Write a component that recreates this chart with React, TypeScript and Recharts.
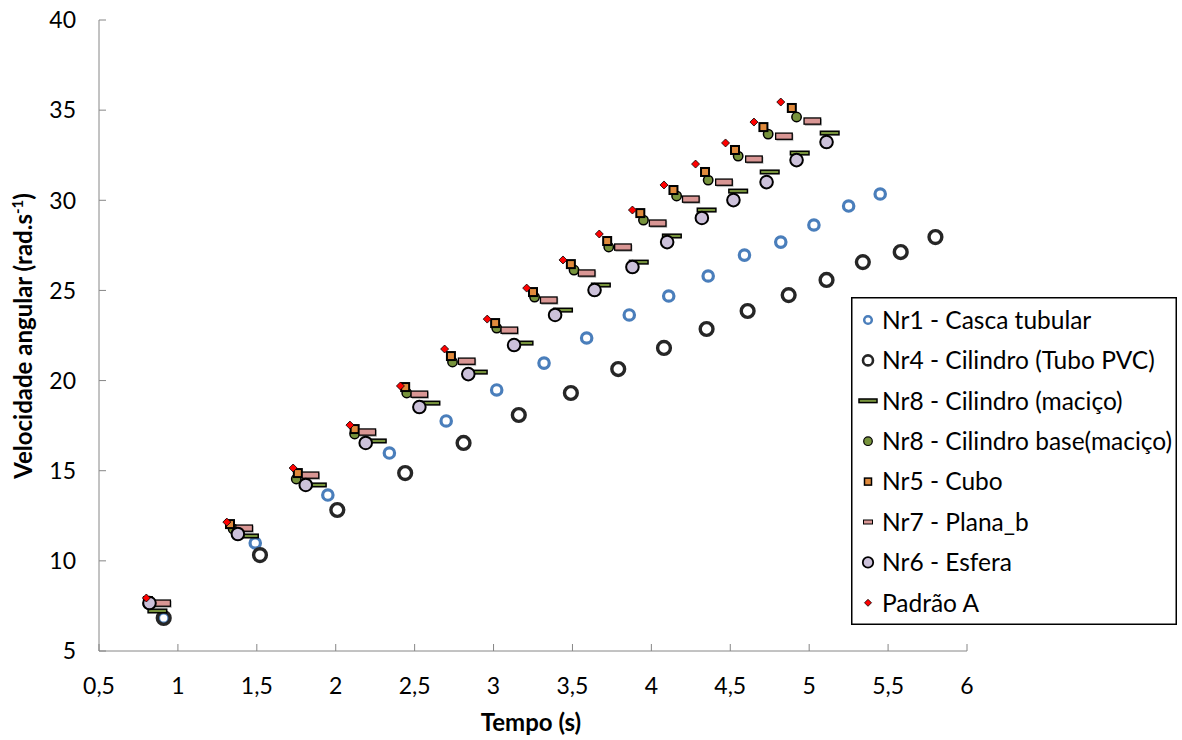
import React from 'react';
import { ScatterChart, Scatter, XAxis, YAxis, Legend } from 'recharts';

// Velocidade angular vs tempo — 8 corpos rolando

const cascaT = [0.91, 1.49, 1.95, 2.34, 2.70, 3.02, 3.32, 3.59, 3.86, 4.11, 4.36, 4.59, 4.82, 5.03, 5.25, 5.45];
const cascaV = [6.83, 10.99, 13.65, 15.98, 17.76, 19.48, 20.97, 22.36, 23.64, 24.69, 25.8, 26.96, 27.68, 28.63, 29.68, 30.35];

const tuboT = [0.91, 1.52, 2.01, 2.44, 2.81, 3.16, 3.49, 3.79, 4.08, 4.35, 4.61, 4.87, 5.11, 5.34, 5.58, 5.80];
const tuboV = [6.83, 10.32, 12.82, 14.87, 16.54, 18.09, 19.31, 20.64, 21.81, 22.86, 23.86, 24.74, 25.58, 26.57, 27.13, 27.96];

const macicoT = [0.87, 1.45, 1.88, 2.26, 2.6, 2.9, 3.19, 3.44, 3.68, 3.92, 4.13, 4.35, 4.55, 4.75, 4.94, 5.13];
const macicoV = [7.22, 11.38, 14.21, 16.65, 18.75, 20.47, 22.08, 23.91, 25.3, 26.57, 28.02, 29.46, 30.51, 31.57, 32.62, 33.73];

const baseT = [0.81, 1.35, 1.75, 2.12, 2.45, 2.74, 3.02, 3.26, 3.51, 3.73, 3.95, 4.16, 4.36, 4.55, 4.74, 4.92];
const baseV = [7.61, 11.77, 14.54, 17.04, 19.31, 21.03, 22.91, 24.63, 26.13, 27.41, 28.9, 30.24, 31.12, 32.45, 33.67, 34.62];

const cuboT = [0.81, 1.33, 1.76, 2.12, 2.44, 2.73, 3.01, 3.25, 3.49, 3.72, 3.93, 4.14, 4.34, 4.53, 4.71, 4.89];
const cuboV = [7.77, 12.04, 14.87, 17.31, 19.64, 21.36, 23.19, 24.91, 26.46, 27.74, 29.29, 30.57, 31.57, 32.79, 34.06, 35.12];

const planaT = [0.9, 1.42, 1.84, 2.2, 2.53, 2.83, 3.1, 3.35, 3.59, 3.82, 4.04, 4.25, 4.46, 4.65, 4.84, 5.02];
const planaV = [7.66, 11.82, 14.76, 17.15, 19.25, 21.08, 22.8, 24.47, 25.97, 27.41, 28.74, 30.07, 31.01, 32.29, 33.56, 34.4];

const esferaT = [0.82, 1.38, 1.81, 2.19, 2.53, 2.84, 3.13, 3.39, 3.64, 3.88, 4.1, 4.32, 4.52, 4.73, 4.92, 5.11];
const esferaV = [7.66, 11.49, 14.21, 16.54, 18.53, 20.36, 21.97, 23.64, 25.02, 26.3, 27.68, 29.02, 30.01, 31.01, 32.23, 33.23];

const padraoT = [0.8, 1.31, 1.73, 2.09, 2.41, 2.69, 2.96, 3.21, 3.44, 3.67, 3.88, 4.08, 4.28, 4.47, 4.65, 4.82];
const padraoV = [7.94, 12.15, 15.15, 17.53, 19.7, 21.75, 23.41, 25.13, 26.69, 28.13, 29.46, 30.85, 32.01, 33.18, 34.34, 35.45];

const xTicks = [0.5, 1, 1.5, 2, 2.5, 3, 3.5, 4, 4.5, 5, 5.5, 6];
const yTicks = [5, 10, 15, 20, 25, 30, 35, 40];

const FONT = 'Lato, "Liberation Sans", Arial, sans-serif';
const AXIS = '#868686';

const toPoints = (t: number[], v: number[]) => t.map((x, i) => ({ x, y: v[i] }));

// marker drawing functions (centered on cx, cy)
const markers: Record<string, (cx: number, cy: number) => React.ReactNode> = {
    casca: (cx, cy) => <circle cx={cx} cy={cy} r={5.2} fill="none" stroke="#4a7ebb" strokeWidth={3.2} />,
    tubo: (cx, cy) => <circle cx={cx} cy={cy} r={6.4} fill="none" stroke="#262626" strokeWidth={3.4} />,
    macico: (cx, cy) => (
        <rect x={cx - 9.3} y={cy - 1.8} width={18.6} height={3.6} fill="#77933c" stroke="#000" strokeWidth={1.5} />
    ),
    base: (cx, cy) => <circle cx={cx} cy={cy} r={4.7} fill="#77933c" stroke="#000" strokeWidth={1.5} />,
    cubo: (cx, cy) => (
        <rect x={cx - 4} y={cy - 4} width={8} height={8} fill="#e08a3c" stroke="#000" strokeWidth={2} />
    ),
    plana: (cx, cy) => (
        <g>
            <rect x={cx - 7.5} y={cy - 2} width={17} height={7} fill="#bbbbbb" />
            <rect x={cx - 8.3} y={cy - 3} width={16.6} height={6.2} fill="#d99694" stroke="#000" strokeWidth={1.3} />
        </g>
    ),
    esfera: (cx, cy) => <circle cx={cx} cy={cy} r={6.3} fill="#ccc1da" stroke="#000" strokeWidth={2} />,
    padrao: (cx, cy) => (
        <polygon
            points={`${cx},${cy - 4} ${cx + 4},${cy} ${cx},${cy + 4} ${cx - 4},${cy}`}
            fill="#ff0000"
            stroke="#000"
            strokeWidth={0.8}
        />
    ),
};

// smaller versions for the legend
const legendMarkers: Record<string, (cx: number, cy: number) => React.ReactNode> = {
    casca: (cx, cy) => <circle cx={cx} cy={cy} r={3.8} fill="none" stroke="#4a7ebb" strokeWidth={2.5} />,
    tubo: (cx, cy) => <circle cx={cx} cy={cy} r={5} fill="none" stroke="#262626" strokeWidth={2.6} />,
    macico: (cx, cy) => (
        <rect x={cx - 9} y={cy - 1.8} width={18} height={3.6} fill="#77933c" stroke="#000" strokeWidth={1.5} />
    ),
    base: (cx, cy) => <circle cx={cx} cy={cy} r={4.3} fill="#77933c" stroke="#000" strokeWidth={1.2} />,
    cubo: (cx, cy) => (
        <rect x={cx - 3.5} y={cy - 3.5} width={7} height={7} fill="#e08a3c" stroke="#000" strokeWidth={1.5} />
    ),
    plana: (cx, cy) => (
        <rect x={cx - 4.5} y={cy - 2} width={9} height={4} fill="#d99694" stroke="#000" strokeWidth={1} />
    ),
    esfera: (cx, cy) => <circle cx={cx} cy={cy} r={5.2} fill="#ccc1da" stroke="#000" strokeWidth={1.8} />,
    padrao: (cx, cy) => (
        <polygon
            points={`${cx},${cy - 3.5} ${cx + 3.5},${cy} ${cx},${cy + 3.5} ${cx - 3.5},${cy}`}
            fill="#ff0000"
            stroke="#000"
            strokeWidth={0.8}
        />
    ),
};

const series = [
    { key: 'casca', name: 'Nr1 - Casca tubular', data: toPoints(cascaT, cascaV) },
    { key: 'tubo', name: 'Nr4 - Cilindro (Tubo PVC)', data: toPoints(tuboT, tuboV) },
    { key: 'macico', name: 'Nr8 - Cilindro (maciço)', data: toPoints(macicoT, macicoV) },
    { key: 'base', name: 'Nr8 - Cilindro base(maciço)', data: toPoints(baseT, baseV) },
    { key: 'cubo', name: 'Nr5 - Cubo', data: toPoints(cuboT, cuboV) },
    { key: 'plana', name: 'Nr7 - Plana_b', data: toPoints(planaT, planaV) },
    { key: 'esfera', name: 'Nr6 - Esfera', data: toPoints(esferaT, esferaV) },
    { key: 'padrao', name: 'Padrão A', data: toPoints(padraoT, padraoV) },
];

const TICK_GAP_Y = 23;
const TICK_GAP_X = 35;
const TICK_FONT = 23;

// ticks point inwards, like the Excel original
const YTick = ({ x, y, payload }: any) => (
    <g>
        <line x1={x + TICK_GAP_Y} x2={x + TICK_GAP_Y + 7} y1={y} y2={y} stroke={AXIS} />
        <text x={x} y={y} dy="0.36em" textAnchor="end" fontFamily={FONT} fontSize={TICK_FONT} fill="#000">
            {payload.value}
        </text>
    </g>
);

const XTick = ({ x, y, payload }: any) => (
    <g>
        <line x1={x} x2={x} y1={y - TICK_GAP_X} y2={y - TICK_GAP_X - 7} stroke={AXIS} />
        <text x={x} y={y} dy="0.36em" textAnchor="middle" fontFamily={FONT} fontSize={TICK_FONT} fill="#000">
            {String(payload.value).replace('.', ',')}
        </text>
    </g>
);

const YTitle = () => {
    const cx = 23;
    const cy = 336;
    return (
        <text
            x={cx}
            y={cy}
            transform={`rotate(-90 ${cx} ${cy})`}
            textAnchor="middle"
            dy="0.36em"
            fontFamily={FONT}
            fontWeight="bold"
            fontSize={24}
            fill="#000"
        >
            Velocidade angular (rad.s
            <tspan dy={-9} fontSize={15}>-1</tspan>
            <tspan dy={9}>)</tspan>
        </text>
    );
};

const XTitle = () => (
    <text
        x={531}
        y={722}
        dy="0.36em"
        textAnchor="middle"
        fontFamily={FONT}
        fontWeight="bold"
        fontSize={24}
        fill="#000"
    >
        Tempo (s)
    </text>
);

const LegendBox = () => (
    <svg width={326} height={328} style={{ display: 'block' }}>
        <rect x={0.75} y={0.75} width={324.5} height={326.5} fill="#fff" stroke="#000" strokeWidth={1.5} />
        {series.map((s, i) => {
            const cy = 23 + i * 40.4;
            return (
                <g key={s.key}>
                    {legendMarkers[s.key](17, cy)}
                    <text x={31} y={cy} dy="0.36em" fontFamily={FONT} fontSize={24.5} fill="#000">
                        {s.name}
                    </text>
                </g>
            );
        })}
    </svg>
);

export default function App() {
    return (
        <div style={{ position: 'absolute', left: 0, top: 0, background: '#fff' }}>
            <ScatterChart width={1182} height={740} margin={{ top: 20, right: 215, bottom: 0, left: 0 }}>
                <XAxis
                    type="number"
                    dataKey="x"
                    domain={[0.5, 6]}
                    ticks={xTicks}
                    interval={0}
                    allowDataOverflow
                    height={89}
                    stroke={AXIS}
                    tickLine={false}
                    tickSize={0}
                    tickMargin={TICK_GAP_X}
                    tick={<XTick />}
                    label={<XTitle />}
                />
                <YAxis
                    type="number"
                    dataKey="y"
                    domain={[5, 40]}
                    ticks={yTicks}
                    interval={0}
                    allowDataOverflow
                    width={99}
                    stroke={AXIS}
                    tickLine={false}
                    tickSize={0}
                    tickMargin={TICK_GAP_Y}
                    tick={<YTick />}
                    label={<YTitle />}
                />
                <Legend
                    layout="vertical"
                    align="center"
                    verticalAlign="middle"
                    wrapperStyle={{ left: 851, top: 297, width: 326, height: 328 }}
                    content={() => <LegendBox />}
                />
                {series.map((s) => (
                    <Scatter
                        key={s.key}
                        name={s.name}
                        data={s.data}
                        isAnimationActive={false}
                        legendType="none"
                        shape={(p: any) => markers[s.key](p.cx, p.cy)}
                    />
                ))}
            </ScatterChart>
        </div>
    );
}
